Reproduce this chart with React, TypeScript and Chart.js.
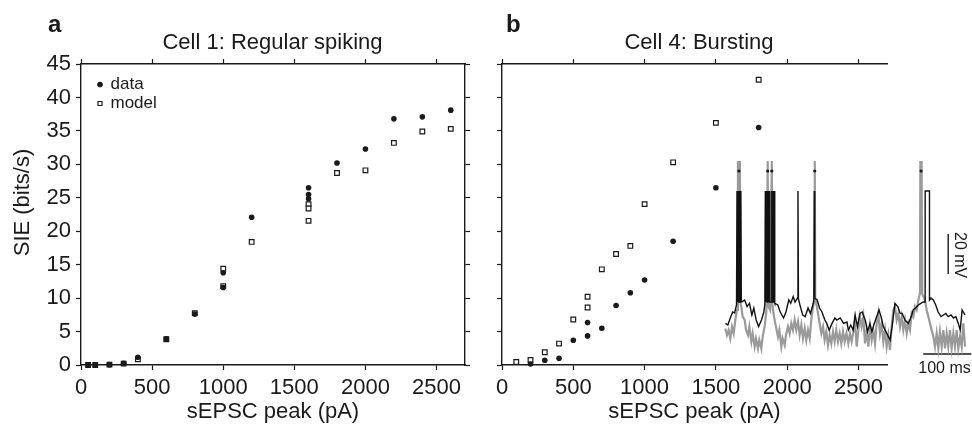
import React, { useEffect, useRef } from 'react';
import { Chart, registerables } from 'chart.js';

Chart.register(...registerables);

const FONT = "'Liberation Sans', Arial, Helvetica, sans-serif";
const INK = '#1a1a1a';
const GRAY = '#9a9a9a';
Chart.defaults.font.family = FONT;

// ---------- Panel a: Cell 1, regular spiking ----------
const cell1DataX = [50, 100, 200, 300, 400, 600, 800, 1000, 1000, 1200, 1600, 1600, 1600, 1800, 2000, 2200, 2400, 2600];
const cell1DataY = [0, 0, 0.05, 0.25, 1.15, 3.9, 7.6, 13.8, 11.6, 22.1, 26.5, 25.5, 24.85, 30.2, 32.3, 36.8, 37.1, 38.1];
const cell1ModelX = [50, 100, 200, 300, 400, 600, 800, 1000, 1000, 1200, 1600, 1600, 1600, 1800, 2000, 2200, 2400, 2600];
const cell1ModelY = [0, 0, 0.05, 0.2, 0.85, 3.85, 7.75, 14.4, 11.8, 18.4, 24.05, 23.4, 21.55, 28.7, 29.1, 33.2, 34.9, 35.3];

// ---------- Panel b: Cell 4, bursting ----------
const cell4DataX = [200, 300, 400, 500, 600, 600, 700, 800, 900, 1000, 1200, 1500, 1800];
const cell4DataY = [0.15, 0.7, 1.0, 3.7, 4.35, 6.35, 5.5, 8.9, 10.8, 12.7, 18.5, 26.5, 35.5];
const cell4ModelX = [100, 200, 300, 400, 500, 600, 600, 700, 800, 900, 1000, 1200, 1500, 1800];
const cell4ModelY = [0.45, 0.75, 1.9, 3.2, 6.8, 8.6, 10.2, 14.3, 16.6, 17.8, 24.05, 30.3, 36.2, 42.65];

// axis ranges / ticks
const X_MIN = 0, X_MAX = 2700;
const Y_MIN = 0, Y_MAX = 45;
const xTicks = [0, 500, 1000, 1500, 2000, 2500];
const yTicks = [0, 5, 10, 15, 20, 25, 30, 35, 40, 45];

// ---------- Inset: membrane potential traces (t in ms, V in mV) ----------
const blackTrace: [number, number][] = [
  [1, -56.7], [6, -57.5], [11, -54], [16, -51], [20, -51.5], [24, -47.5],
  [25, 9.5], [26, -46], [27, 9.5], [28, -46], [29, 9.5], [30, -46], [31, 9.5], [32, -46], [33, 9.5], [34, -45.5],
  [36, -45.8], [41, -45], [46, -48.3], [51, -46.7], [56, -52.5], [60, -49], [65, -55], [70, -58.3], [76, -55], [81, -51],
  [83, -47], [84, 9.5], [84.8, -46], [85.5, 9.5], [86.3, -46], [87, 9.5], [87.8, -46], [88.5, 9.5], [89.3, -46], [90, 9.5], [90.8, -46], [91.5, 9.5], [92.3, -46], [93, 9.5], [93.6, -46],
  [97.2, -46], [97.5, 9.5], [98.2, -46], [99, 9.5], [99.7, -46], [100.4, 9.5], [101.1, -46], [101.8, 9.5], [102.5, -46], [103.3, 9.5], [104, -46.7],
  [110, -47.5], [115, -51], [122, -54], [127, -51], [133, -45], [137, -46.7], [142, -43.3], [146, -46], [151, -44], [152, 9.5], [153, -44.5],
  [157, -48.3], [162, -52.5], [167, -53.3], [173, -49], [178, -51.7], [183, -47.5], [185, -45], [186, 9.5], [187, -44],
  [192, -45], [197, -49], [202, -51], [208, -55], [212, -56.7], [217, -60], [223, -56.7], [229, -54], [233, -55], [240, -54], [247, -56.7],
  [254, -56], [257, -60], [262, -57.5], [267, -60], [271, -52.5], [276, -58.3], [281, -51.7], [286, -51], [292, -55], [297, -60.8],
  [302, -56.7], [306, -60.8], [311, -56.7], [316, -53.3], [321, -50], [325, -53.3], [330, -58.3], [337, -61.7], [344, -65], [349, -56.7],
  [354, -46.7], [360, -48.3], [365, -51.7], [369, -51.7], [375, -55], [382, -56.7], [388, -53.3], [392, -50], [397, -49], [403, -47.5],
  [408, -46.7], [413, -46], [417, -46], [417, 9.5], [426, 9.5], [426, -45],
  [429, -44], [434, -45], [439, -47.5], [444, -51], [450, -53.3], [455, -52.5], [460, -51.7], [465, -53.3], [471, -52.5], [476, -54],
  [481, -53.3], [486, -56.7], [490, -60], [494, -50], [500, -52.5],
];

const grayTrace: [number, number][] = [
  [0.7, -59.2], [4.2, -62.5], [7.6, -60], [11.1, -64.2], [14.6, -58.3], [18.1, -61.7], [21.5, -55], [25, -50],
  [27, 24.5], [28, -46], [29, 24.5], [30, -46], [31, 24.5], [32.5, -47],
  [34, -48.3], [36.8, -53.3], [41, -55], [43.8, -60], [47.9, -62.5], [50.7, -58.3], [54.9, -65.8], [57.6, -61.7], [61.8, -68.3], [64.6, -64.2],
  [68.7, -69.2], [71.5, -65], [75.7, -69.2], [78.5, -63.3], [82.6, -58.3], [86.1, -50.8],
  [89, 24.5], [90, -48], [94, -50], [97.5, 24.5], [98.5, -47],
  [102.1, -53.3], [106.2, -58.3], [110.4, -63.3], [113.2, -60], [117.4, -68.3], [120.1, -64.2], [124.3, -67.5], [127.1, -62.5], [131.2, -58.3],
  [134.7, -61.7], [138.2, -56.7], [141.7, -60], [145.1, -55], [148.6, -60], [152.1, -55.8], [155.5, -62.5], [159, -57.5], [162.5, -64.2],
  [166, -59.2], [169.4, -65], [172.9, -60], [176.4, -64.2], [179.8, -55], [183.3, -48.3],
  [186.5, -46], [187, 24.5], [188, -45],
  [190.3, -46.7], [193.7, -51.7], [197.2, -56.7], [200.7, -61.7], [204.2, -58.3], [207.6, -65], [211.1, -60.8], [214.6, -67.5], [218, -62.5],
  [221.5, -66.7], [225, -60.8], [228.5, -65.8], [231.9, -60], [235.4, -65.8], [238.9, -61.7], [242.3, -66.7], [245.8, -60.8], [249.3, -65.8],
  [253, -61.7], [256.9, -66.7], [260.4, -61.7], [263.9, -65.8], [267.4, -60.8], [270.8, -55], [274.3, -68.3], [277.8, -60], [281.2, -53.3],
  [284.7, -58.3], [288.2, -53.3], [291.7, -66.7], [295.1, -60], [298.6, -68.3], [302.1, -58.3], [305.6, -65], [309, -60], [312.5, -66.7],
  [316, -56.7], [319.4, -51.7], [322.9, -61.7], [326.4, -56.7], [329.9, -65.8], [333.3, -60], [336.8, -68.3], [340.3, -62.5], [343.7, -70],
  [347.2, -58.3], [350.7, -50], [354.2, -48.3], [357.6, -55], [361.1, -51.7], [364.6, -58.3], [368, -53.3], [371.5, -60], [375, -55],
  [378.5, -61.7], [381.9, -56.7], [385.4, -60], [388.9, -51.7], [392.4, -53.3], [395.8, -48.3], [399.3, -50], [402.8, -45], [406.2, -41.7],
  [407, 24.5], [408.5, -40], [409.5, 24.5], [411, -42],
  [416.7, -45], [420.1, -50], [423.6, -53.3], [427.1, -56.7], [430.5, -60], [434, -63.3], [437.5, -68.3], [441, -61.7], [444.4, -69.2],
  [447.9, -60.8], [451.4, -68.3], [454.9, -60], [458.3, -69.2], [461.8, -61.7], [465.3, -68.3], [468.7, -60], [472.2, -69.2], [475.7, -61.7],
  [479.2, -68.3], [482.6, -60], [486.1, -69.2], [489.6, -63.3], [493.1, -68.3], [496.5, -56.7], [500, -68.3],
];

const spikeMarkT = [29, 89, 97.5, 187, 408.5];
const spikeMarkV = 19.5;
const timeBarT = [413, 513];
const timeBarV = -72;
const voltBarT = 465;
const voltBarV = [-12, -32];
const INSET_T = [0, 500];
const INSET_V = [-85, 30];

const pts = (xs: number[], ys: number[]) => xs.map((x, i) => ({ x, y: ys[i] }));
const pairs = (arr: [number, number][]) => arr.map(([x, y]) => ({ x, y }));

const tickFont = { family: FONT, size: 22 };

function fixedAxis(position: string, min: number, max: number, tickVals: number[], size: number, labels: boolean, extra: any = {}) {
  const vertical = position === 'left' || position === 'right';
  return {
    type: 'linear',
    position,
    min,
    max,
    afterBuildTicks: (s: any) => {
      s.ticks = tickVals.map((v) => ({ value: v }));
    },
    afterFit: (s: any) => {
      if (vertical) s.width = size;
      else s.height = size;
    },
    ticks: {
      display: labels,
      autoSkip: false,
      maxRotation: 0,
      padding: 5,
      color: INK,
      font: tickFont,
      callback: (v: any) => String(v),
    },
    grid: {
      display: true,
      drawOnChartArea: false,
      drawTicks: true,
      tickLength: 5,
      tickWidth: 1.2,
      tickColor: INK,
    },
    border: { display: true, color: INK, width: 1.4 },
    ...extra,
  };
}

const xTitle = {
  title: {
    display: true,
    text: 'sEPSC peak (pA)',
    color: INK,
    font: { family: FONT, size: 22, lineHeight: 1.2 },
    padding: 0,
  },
};

function textPlugin(letter: string, letterX: number, title: string, titleX: number, yTitle?: string) {
  return {
    id: 'panelText',
    afterDraw(chart: any) {
      const ctx = chart.ctx;
      ctx.save();
      ctx.fillStyle = INK;
      ctx.textBaseline = 'alphabetic';
      ctx.textAlign = 'left';
      ctx.font = `bold 24px ${FONT}`;
      ctx.fillText(letter, letterX, 32);
      ctx.font = `22px ${FONT}`;
      ctx.textAlign = 'center';
      ctx.fillText(title, titleX, 49);
      if (yTitle) {
        ctx.translate(23, 202.5);
        ctx.rotate(-Math.PI / 2);
        ctx.textBaseline = 'middle';
        ctx.fillText(yTitle, 0, 0);
      }
      ctx.restore();
    },
  };
}

// places the chartArea legend at the upper left inside the plot
const legendPlace = {
  id: 'legendPlace',
  afterLayout(chart: any) {
    const l = chart.legend;
    if (l && l.options && l.options.display) {
      const w = l.width;
      const h = l.height;
      l.left = chart.chartArea.left + 15;
      l.right = l.left + w;
      l.top = chart.chartArea.top + 10;
      l.bottom = l.top + h;
    }
  },
};

const insetText = {
  id: 'insetText',
  afterDraw(chart: any) {
    const { ctx, scales } = chart;
    const xs = scales.x;
    const ys = scales.y;
    ctx.save();
    ctx.fillStyle = INK;
    ctx.font = `16px ${FONT}`;
    ctx.textAlign = 'left';
    ctx.textBaseline = 'alphabetic';
    ctx.fillText('100 ms', xs.getPixelForValue(timeBarT[0]) - 5, ys.getPixelForValue(timeBarV) + 19);
    ctx.translate(xs.getPixelForValue(voltBarT) + 7, ys.getPixelForValue(voltBarV[0]) - 2);
    ctx.rotate(Math.PI / 2);
    ctx.fillText('20 mV', 0, 0);
    ctx.restore();
  },
};

function dataDs(xs: number[], ys: number[]) {
  return {
    label: 'data',
    data: pts(xs, ys),
    pointStyle: 'circle',
    pointRadius: 2.8,
    backgroundColor: INK,
    borderColor: INK,
    borderWidth: 0,
    clip: false,
  };
}
function modelDs(xs: number[], ys: number[]) {
  return {
    label: 'model',
    data: pts(xs, ys),
    pointStyle: 'rect',
    pointRadius: 3.3,
    backgroundColor: '#ffffff',
    borderColor: INK,
    borderWidth: 1.2,
    clip: false,
  };
}

export default function App() {
  const leftRef = useRef<HTMLCanvasElement>(null);
  const rightRef = useRef<HTMLCanvasElement>(null);
  const insetRef = useRef<HTMLCanvasElement>(null);

  useEffect(() => {
    const charts: Chart[] = [];

    charts.push(
      new Chart(leftRef.current as HTMLCanvasElement, {
        type: 'scatter',
        data: { datasets: [dataDs(cell1DataX, cell1DataY), modelDs(cell1ModelX, cell1ModelY)] as any },
        options: {
          responsive: false,
          animation: false,
          events: [],
          layout: { padding: { left: 0, right: 21, top: 60, bottom: 0 } },
          scales: {
            x: fixedAxis('bottom', X_MIN, X_MAX, xTicks, 60, true, xTitle),
            x2: fixedAxis('top', X_MIN, X_MAX, xTicks, 4, false),
            y: fixedAxis('left', Y_MIN, Y_MAX, yTicks, 81, true),
            y2: fixedAxis('right', Y_MIN, Y_MAX, yTicks, 4, false),
          } as any,
          plugins: {
            legend: {
              display: true,
              position: 'chartArea',
              align: 'start',
              labels: {
                usePointStyle: true,
                boxWidth: 4,
                boxHeight: 4,
                padding: 2,
                color: INK,
                font: { family: FONT, size: 17 },
              },
            },
            title: { display: false },
            tooltip: { enabled: false },
          } as any,
        },
        plugins: [legendPlace, textPlugin('a', 48, 'Cell 1: Regular spiking', 272.5, 'SIE (bits/s)')],
      })
    );

    charts.push(
      new Chart(rightRef.current as HTMLCanvasElement, {
        type: 'scatter',
        data: { datasets: [dataDs(cell4DataX, cell4DataY), modelDs(cell4ModelX, cell4ModelY)] as any },
        options: {
          responsive: false,
          animation: false,
          events: [],
          layout: { padding: { left: 0, right: 85, top: 60, bottom: 0 } },
          scales: {
            x: fixedAxis('bottom', X_MIN, X_MAX, xTicks, 60, true, xTitle),
            x2: fixedAxis('top', X_MIN, X_MAX, xTicks, 4, false),
            y: fixedAxis('left', Y_MIN, Y_MAX, yTicks, 12, false),
          } as any,
          plugins: {
            legend: { display: false },
            tooltip: { enabled: false },
          },
        },
        plugins: [textPlugin('b', 16, 'Cell 4: Bursting', 209)],
      })
    );

    charts.push(
      new Chart(insetRef.current as HTMLCanvasElement, {
        type: 'scatter',
        data: {
          datasets: [
            {
              label: 'spike marks',
              data: spikeMarkT.map((t) => ({ x: t, y: spikeMarkV })),
              pointStyle: 'circle',
              pointRadius: 1.6,
              backgroundColor: INK,
              borderWidth: 0,
              clip: false,
            },
            {
              label: 'model trace',
              data: pairs(blackTrace),
              showLine: true,
              pointRadius: 0,
              borderColor: '#111111',
              borderWidth: 1.4,
              tension: 0,
              clip: false,
            },
            {
              label: 'recorded trace',
              data: pairs(grayTrace),
              showLine: true,
              pointRadius: 0,
              borderColor: GRAY,
              borderWidth: 2.2,
              tension: 0,
              clip: false,
            },
            {
              label: 'time bar',
              data: timeBarT.map((t) => ({ x: t, y: timeBarV })),
              showLine: true,
              pointRadius: 0,
              borderColor: INK,
              borderWidth: 1.4,
              clip: false,
            },
            {
              label: 'voltage bar',
              data: voltBarV.map((v) => ({ x: voltBarT, y: v })),
              showLine: true,
              pointRadius: 0,
              borderColor: INK,
              borderWidth: 1.4,
              clip: false,
            },
          ] as any,
        },
        options: {
          responsive: false,
          animation: false,
          events: [],
          layout: { padding: { left: 725, right: 7, top: 150, bottom: 45 } },
          scales: {
            x: { type: 'linear', display: false, min: INSET_T[0], max: INSET_T[1] },
            y: { type: 'linear', display: false, min: INSET_V[0], max: INSET_V[1] },
          },
          plugins: {
            legend: { display: false },
            tooltip: { enabled: false },
          },
        },
        plugins: [insetText],
      })
    );

    return () => {
      charts.forEach((c) => c.destroy());
    };
  }, []);

  return (
    <div
      style={{
        position: 'absolute',
        left: 0,
        top: 0,
        width: 972,
        height: 425,
        background: '#ffffff',
        overflow: 'hidden',
      }}
    >
      <canvas ref={leftRef} width={490} height={425} style={{ position: 'absolute', left: 0, top: 0 }} />
      <canvas ref={rightRef} width={482} height={425} style={{ position: 'absolute', left: 490, top: 0 }} />
      <canvas
        ref={insetRef}
        width={972}
        height={425}
        style={{ position: 'absolute', left: 0, top: 0, pointerEvents: 'none' }}
      />
    </div>
  );
}
